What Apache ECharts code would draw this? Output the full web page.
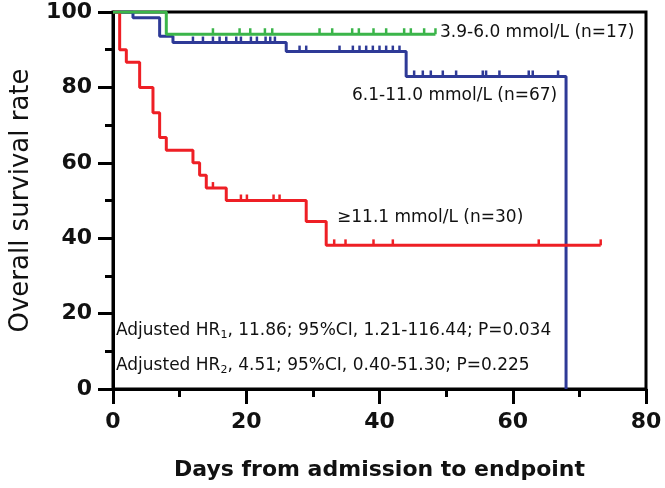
<!DOCTYPE html>
<html>
<head>
<meta charset="utf-8">
<script src="https://cdn.jsdelivr.net/npm/echarts@6/dist/echarts.min.js"></script>
<style>
html,body{margin:0;padding:0;background:#fff;}
#c{width:665px;height:488px;}
</style>
</head>
<body>
<div id="c"></div>
<script>
// ---- data ----
var xTicks = [0, 20, 40, 60, 80];
var yTicks = [0, 20, 40, 60, 80, 100];

var greenTimes = [0, 8, 48.4];
var greenSurv  = [100, 94.1, 94.1];
var greenCensor = [15, 19, 20.6, 22.8, 23.9, 31, 32.9, 35.9, 36.9, 39.1, 41, 43.7, 44.7, 46.7, 48.4];

var blueTimes = [0, 3, 7, 9, 26, 44, 68, 68];
var blueSurv  = [100, 98.5, 93.6, 91.9, 89.5, 82.9, 82.9, 0];
var blueCensor = [12, 13.5, 15, 16, 17, 18.5, 19.2, 20.7, 21.6, 22.9, 23.6, 24.3,
                  28, 29, 34, 36, 37, 38, 39, 40, 41, 42, 43,
                  45.2, 46.5, 47.7, 49.5, 51.5, 55.5, 56, 58, 62.4, 63, 66.8];

var redTimes = [0, 1, 2, 4, 6, 7, 8, 12, 13, 14, 17, 29, 32, 73.2];
var redSurv  = [100, 90, 86.7, 80, 73.3, 66.7, 63.3, 60, 56.7, 53.3, 50, 44.4, 38.1, 38.1];
var redCensor = [15, 19.2, 20.1, 24.1, 25, 33.2, 34.9, 39.1, 42, 63.9, 73.2];

var labels = {
  green: '3.9-6.0 mmol/L (n=17)',
  blue: '6.1-11.0 mmol/L (n=67)',
  red: '\u226511.1 mmol/L (n=30)'
};

var RED = '#ee1f25', GREEN = '#3bb54a', BLUE = '#2e3a97';

function pairs(t, s) { return t.map(function (v, i) { return [v, s[i]]; }); }
function censorPts(c, t, s) {
  return c.map(function (x) {
    var v = s[0];
    for (var i = 0; i < t.length; i++) { if (t[i] <= x && s[i] > 0) v = s[i]; }
    return [x, v];
  });
}

function stepSeries(name, t, s, color, z) {
  return {
    name: name, type: 'line', step: 'end', data: pairs(t, s),
    showSymbol: false, symbol: 'none', z: z,
    lineStyle: { color: color, width: 3 }, animation: false
  };
}
function tickSeries(name, c, t, s, color, z) {
  return {
    name: name + ' censored', type: 'custom', z: z, animation: false,
    data: censorPts(c, t, s),
    renderItem: function (params, api) {
      var p = api.coord([api.value(0), api.value(1)]);
      return {
        type: 'line',
        shape: { x1: p[0], y1: p[1], x2: p[0], y2: p[1] - 6 },
        style: { stroke: color, lineWidth: 2.5 }
      };
    }
  };
}

var chart = echarts.init(document.getElementById('c'), null, { renderer: 'canvas' });
var FONT = '"DejaVu Sans", Verdana, sans-serif';

var rich = {
  n: { fontSize: 17, fontFamily: FONT, fill: '#111' },
  s: { fontSize: 11, fontFamily: FONT, fill: '#111', padding: [9, 0, 0, 0] }
};

chart.setOption({
  animation: false,
  backgroundColor: '#fff',
  grid: { left: 103, right: 19, top: 12, bottom: 99, show: true, borderColor: '#000', borderWidth: 3 },
  xAxis: {
    type: 'value', min: 0, max: 80, interval: 20,
    name: 'Days from admission to endpoint', nameLocation: 'middle', nameGap: 70,
    nameTextStyle: { fontFamily: FONT, fontSize: 22, fontWeight: 'bold', color: '#111' },
    axisLine: { show: true, onZero: false, lineStyle: { color: '#000', width: 3 } },
    axisTick: { show: true, inside: false, length: 15, lineStyle: { color: '#000', width: 3 } },
    minorTick: { show: true, splitNumber: 2, length: 8, lineStyle: { color: '#000', width: 3 } },
    splitLine: { show: false },
    axisLabel: { margin: 22, fontFamily: FONT, fontSize: 22, fontWeight: 'bold', color: '#111',
      formatter: function (v) { return xTicks.indexOf(v) >= 0 ? String(v) : ''; } }
  },
  yAxis: {
    type: 'value', min: 0, max: 100, interval: 20,
    name: 'Overall survival rate', nameLocation: 'middle', nameGap: 79, nameRotate: 90,
    nameTextStyle: { fontFamily: FONT, fontSize: 26, color: '#111' },
    axisLine: { show: true, onZero: false, lineStyle: { color: '#000', width: 3 } },
    axisTick: { show: true, inside: false, length: 15, lineStyle: { color: '#000', width: 3 } },
    minorTick: { show: true, splitNumber: 2, length: 8, lineStyle: { color: '#000', width: 3 } },
    splitLine: { show: false },
    axisLabel: { margin: 21, fontFamily: FONT, fontSize: 22, fontWeight: 'bold', color: '#111',
      formatter: function (v) { return yTicks.indexOf(v) >= 0 ? String(v) : ''; } }
  },
  series: [
    stepSeries('blue', blueTimes, blueSurv, BLUE, 2),
    tickSeries('blue', blueCensor, blueTimes, blueSurv, BLUE, 2),
    stepSeries('red', redTimes, redSurv, RED, 3),
    tickSeries('red', redCensor, redTimes, redSurv, RED, 3),
    stepSeries('green', greenTimes, greenSurv, GREEN, 4),
    tickSeries('green', greenCensor, greenTimes, greenSurv, GREEN, 4)
  ],
  graphic: [
    { type: 'text', left: 440, top: 24, style: { text: labels.green, font: '17px ' + FONT, fill: '#111' } },
    { type: 'text', left: 352, top: 87, style: { text: labels.blue, font: '17px ' + FONT, fill: '#111' } },
    { type: 'text', left: 337, top: 209, style: { text: labels.red, font: '17px ' + FONT, fill: '#111' } },
    { type: 'text', left: 116, top: 322, style: { rich: rich,
        text: '{n|Adjusted HR}{s|1}{n|, 11.86; 95%CI, 1.21-116.44; P=0.034}' } },
    { type: 'text', left: 116, top: 357, style: { rich: rich,
        text: '{n|Adjusted HR}{s|2}{n|, 4.51; 95%CI, 0.40-51.30; P=0.225}' } }
  ]
});
</script>
</body>
</html>
